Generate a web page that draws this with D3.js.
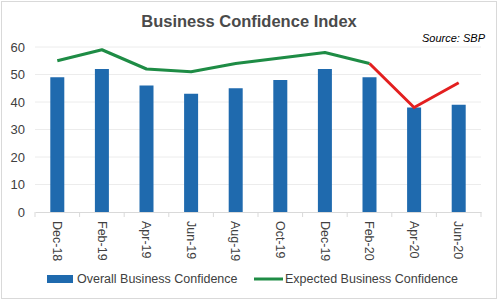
<!DOCTYPE html>
<html>
<head>
<meta charset="utf-8">
<script src="https://cdn.jsdelivr.net/npm/d3@7"></script>
<style>
  html, body { margin: 0; padding: 0; background: #fff; }
  svg { display: block; font-family: "Liberation Sans", Arial, sans-serif; }
</style>
</head>
<body>
<div id="chart"></div>
<script>
const categories = ["Dec-18", "Feb-19", "Apr-19", "Jun-19", "Aug-19", "Oct-19", "Dec-19", "Feb-20", "Apr-20", "Jun-20"];
const overall = [49, 52, 46, 43, 45, 48, 52, 49, 38, 39];
const expected = [55, 59, 52, 51, 54, 56, 58, 54, 38, 47];
const yTicks = [0, 10, 20, 30, 40, 50, 60];
const redFrom = 7; // index where the line turns red

(() => {
  const width = 498, height = 300;
  const margin = { top: 47, right: 17, bottom: 88, left: 35 };
  const innerW = width - margin.left - margin.right;
  const innerH = height - margin.top - margin.bottom;

  const svg = d3.select("#chart").append("svg")
    .attr("width", width).attr("height", height);

  // outer border
  svg.append("rect")
    .attr("x", 1.5).attr("y", 1.5)
    .attr("width", width - 3).attr("height", height - 3)
    .attr("fill", "#fff").attr("stroke", "#d9d9d9");

  svg.append("text")
    .attr("x", 249).attr("y", 27)
    .attr("text-anchor", "middle")
    .attr("fill", "#4a4a4a")
    .style("font-size", "16.5px").style("font-weight", "bold")
    .text("Business Confidence Index");

  svg.append("text")
    .attr("x", 485).attr("y", 42)
    .attr("text-anchor", "end")
    .attr("fill", "#000")
    .style("font-size", "11px").style("font-style", "italic")
    .text("Source: SBP");

  const g = svg.append("g").attr("transform", `translate(${margin.left},${margin.top})`);

  const x = d3.scaleBand().domain(categories).range([0, innerW]);
  const y = d3.scaleLinear().domain([0, 60]).range([innerH, 0]);

  // grid
  g.append("g")
    .selectAll("line")
    .data(yTicks.filter(d => d > 0))
    .join("line")
    .attr("x1", 0).attr("x2", innerW)
    .attr("y1", d => y(d)).attr("y2", d => y(d))
    .attr("stroke", "#ececec");

  // y axis labels
  g.append("g")
    .call(d3.axisLeft(y).tickValues(yTicks).tickSize(0).tickPadding(10))
    .call(s => s.select(".domain").remove())
    .call(s => s.selectAll("text").attr("fill", "#404040").style("font-size", "13px")
      .style("font-family", "Liberation Sans, Arial, sans-serif"));

  // bars
  const barW = 14;
  g.selectAll("rect.bar")
    .data(overall)
    .join("rect")
    .attr("class", "bar")
    .attr("x", (d, i) => x(categories[i]) + x.bandwidth() / 2 - barW / 2)
    .attr("y", d => y(d))
    .attr("width", barW)
    .attr("height", d => innerH - y(d))
    .attr("fill", "#1f6aae");

  // x axis
  const xAxis = g.append("g")
    .attr("transform", `translate(0,${innerH})`)
    .call(d3.axisBottom(x).tickSize(0).tickPadding(0));
  xAxis.select(".domain").attr("stroke", "#d9d9d9");
  // ticks at band boundaries
  xAxis.selectAll("line.bound")
    .data(d3.range(categories.length + 1))
    .join("line")
    .attr("class", "bound")
    .attr("x1", i => i * x.step()).attr("x2", i => i * x.step())
    .attr("y1", 0).attr("y2", 5)
    .attr("stroke", "#d9d9d9");
  xAxis.selectAll(".tick text")
    .attr("transform", "translate(0,9) rotate(90)")
    .attr("text-anchor", "start")
    .attr("dy", "0.35em")
    .attr("x", 0).attr("y", 0)
    .attr("fill", "#404040")
    .style("font-size", "12.5px")
    .style("font-family", "Liberation Sans, Arial, sans-serif");

  // line: green up to redFrom, red after
  const pts = expected.map((v, i) => ({ v, i }));
  const lineXY = d3.line()
    .x(d => x(categories[d.i]) + x.bandwidth() / 2)
    .y(d => y(d.v));

  g.append("path")
    .datum(pts.slice(0, redFrom + 1))
    .attr("d", lineXY)
    .attr("fill", "none").attr("stroke", "#1e8c45").attr("stroke-width", 3)
    .attr("stroke-linejoin", "round");
  g.append("path")
    .datum(pts.slice(redFrom))
    .attr("d", lineXY)
    .attr("fill", "none").attr("stroke", "#e31f1f").attr("stroke-width", 3)
    .attr("stroke-linejoin", "miter");

  // legend
  const lg = svg.append("g").attr("transform", "translate(0,279)");
  lg.append("rect").attr("x", 47).attr("y", -4).attr("width", 26).attr("height", 8).attr("fill", "#1f6aae");
  lg.append("text").attr("x", 77).attr("y", 0).attr("dy", "0.35em")
    .attr("fill", "#404040").style("font-size", "12.5px").text("Overall Business Confidence");
  lg.append("line").attr("x1", 254).attr("x2", 283).attr("y1", 0).attr("y2", 0)
    .attr("stroke", "#1e8c45").attr("stroke-width", 3);
  lg.append("text").attr("x", 285).attr("y", 0).attr("dy", "0.35em")
    .attr("fill", "#404040").style("font-size", "12.5px").text("Expected Business Confidence");
})();
</script>
</body>
</html>
